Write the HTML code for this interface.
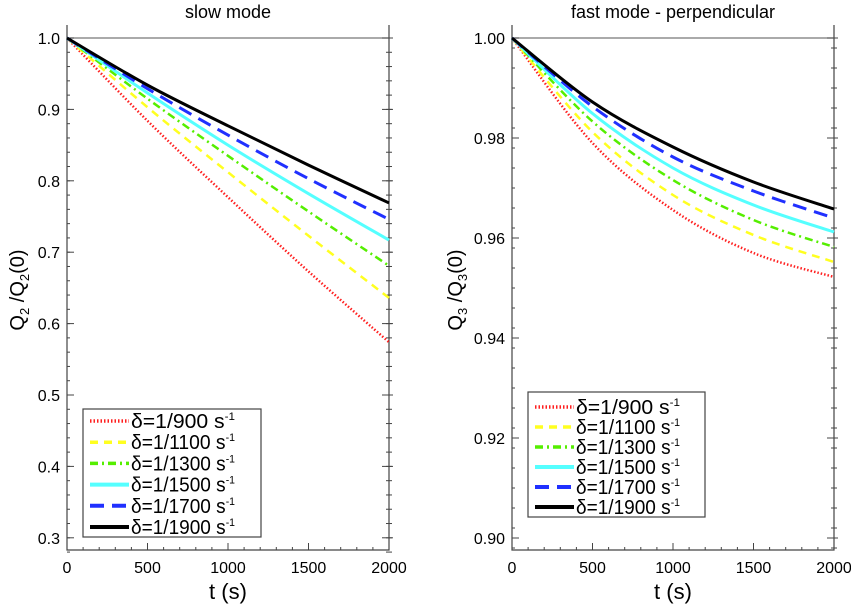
<!DOCTYPE html>
<html><head><meta charset="utf-8"><style>
body{margin:0;background:#fff;}
svg{display:block;font-family:"Liberation Sans",sans-serif;}
</style></head><body>
<svg id="chart" width="851" height="608" xmlns="http://www.w3.org/2000/svg"></svg>
<script>
const times=[0,500,1000,1500,2000];
const labels=["δ=1/900 s","δ=1/1100 s","δ=1/1300 s","δ=1/1500 s","δ=1/1700 s","δ=1/1900 s"];
const slowRed=[1,0.884,0.777,0.673,0.574];
const slowYellow=[1,0.903,0.812,0.723,0.636];
const slowGreen=[1,0.915,0.835,0.757,0.681];
const slowCyan=[1,0.923,0.850,0.782,0.717];
const slowBlue=[1,0.929,0.864,0.803,0.746];
const slowBlack=[1,0.934,0.877,0.822,0.769];
const fastRed=[1,0.979,0.9656,0.957,0.9522];
const fastYellow=[1,0.9812,0.9686,0.9606,0.9552];
const fastGreen=[1,0.9833,0.9716,0.9636,0.9582];
const fastCyan=[1,0.9849,0.974,0.9666,0.9612];
const fastBlue=[1,0.9863,0.9762,0.9694,0.964];
const fastBlack=[1,0.9872,0.9782,0.9712,0.9658];
const xTicks=[0,500,1000,1500,2000];
const slowYTicks=[0.3,0.4,0.5,0.6,0.7,0.8,0.9,1.0];
const fastYTicks=[0.90,0.92,0.94,0.96,0.98,1.00];

const NS="http://www.w3.org/2000/svg";
const svg=document.getElementById('chart');
function mk(tag,attrs,parent){const e=document.createElementNS(NS,tag);for(const k in attrs)e.setAttribute(k,attrs[k]);(parent||svg).appendChild(e);return e;}
const styles=[
 {stroke:"#ff2020",w:2.5,dash:"1.5,2"},
 {stroke:"#ffff20",w:2.5,dash:"8,6"},
 {stroke:"#55ee00",w:2.5,dash:"8,4,2,4"},
 {stroke:"#55ffff",w:3,dash:""},
 {stroke:"#2030ff",w:3,dash:"14,8"},
 {stroke:"#000000",w:3,dash:""}];

function panel(cfg){
 const g=mk('g',{});
 
 
 const x0=cfg.x0,x1=cfg.x1,yTop=25,yBot=550;
 const sx=t=>x0+(t-0)/2000*(x1-x0);
 const sy=v=>38+(1-v)*cfg.ppu;
 const ax=mk('path',{d:`M${x0},${yTop}V${yBot}H${x1}V${yTop}`,fill:"none",stroke:"#444","stroke-width":1.2},g);
 
 const ref=mk('line',{x1:x0,x2:x1,y1:sy(1),y2:sy(1),stroke:"#777","stroke-width":1.2},g);
 
 const ymin=cfg.ymin,step=cfg.minor;
 for(let v=ymin;v<=1.0001;v+=step){const y=sy(v);mk('line',{x1:x0,x2:x0+3,y1:y,y2:y,stroke:"#444"},g);mk('line',{x1:x1-3,x2:x1+3,y1:y,y2:y,stroke:"#444"},g);}
 cfg.yTicks.forEach(v=>{const y=sy(v);
  mk('line',{x1:x0,x2:x0+7,y1:y,y2:y,stroke:"#444"},g);mk('line',{x1:x1-7,x2:x1+4,y1:y,y2:y,stroke:"#444"},g);
  const t=mk('text',{x:x0-7,y:y+6,"text-anchor":"end","font-size":16},g);t.textContent=v.toFixed(cfg.dec);
  });
 for(let t=0;t<=2000;t+=100){const x=sx(t);mk('line',{x1:x,x2:x,y1:yBot,y2:yBot-(t%500==0?7:3),stroke:"#444"},g);}
 xTicks.forEach(t=>{const e=mk('text',{x:sx(t),y:573,"text-anchor":"middle","font-size":16},g);e.textContent=t;
  });
 const xt=mk('text',{x:(x0+x1)/2,y:599,"text-anchor":"middle","font-size":22},g);xt.textContent="t (s)";
 
 const tt=mk('text',{x:(x0+x1)/2,y:18,"text-anchor":"middle","font-size":18},g);tt.textContent=cfg.title;
 
 const yt=mk('text',{transform:`translate(${cfg.ytx},290) rotate(-90)`,"text-anchor":"middle","font-size":20},g);
 yt.innerHTML=`Q<tspan font-size="13" dy="5">${cfg.q}</tspan><tspan dy="-5"> /Q</tspan><tspan font-size="13" dy="5">${cfg.q}</tspan><tspan dy="-5">(0)</tspan>`;
 
 cfg.series.forEach((vals,i)=>{
  const pts=times.map((t,k)=>[sx(t),sy(vals[k])]);
  let d=`M${pts[0][0]},${pts[0][1]}`;
  for(let k=0;k<pts.length-1;k++){const p0=pts[Math.max(0,k-1)],p1=pts[k],p2=pts[k+1],p3=pts[Math.min(pts.length-1,k+2)];
   const c1=[p1[0]+(p2[0]-p0[0])/6,p1[1]+(p2[1]-p0[1])/6],c2=[p2[0]-(p3[0]-p1[0])/6,p2[1]-(p3[1]-p1[1])/6];
   d+=`C${c1[0]},${c1[1]} ${c2[0]},${c2[1]} ${p2[0]},${p2[1]}`;}
  const s=styles[i];
  const p=mk('path',{d:d,fill:"none",stroke:s.stroke,"stroke-width":s.w,"stroke-dasharray":s.dash},g);
  
 });
 const L=cfg.legend;
 const box=mk('rect',{x:L.x,y:L.y,width:L.w,height:L.h,fill:"#fff",stroke:"#444","stroke-width":1.2},g);
 
 labels.forEach((lab,i)=>{const y=L.y0+i*L.dy;const s=styles[i];
  const ln=mk('line',{x1:L.x+7,x2:L.x+46,y1:y,y2:y,stroke:s.stroke,"stroke-width":s.w+1,"stroke-dasharray":s.dash},g);
  
  const t=mk('text',{x:L.x+48,y:y+7,"font-size":20,textLength:104,lengthAdjust:"spacingAndGlyphs"},g);
  t.innerHTML=lab+'<tspan font-size="11" dy="-8">-1</tspan>';
  });
}
panel({name:'slow-mode-panel',x0:67,x1:389,ppu:714,ymin:0.28,minor:0.02,yTicks:slowYTicks,dec:1,title:"slow mode",q:"2",ytx:24,
 series:[slowRed,slowYellow,slowGreen,slowCyan,slowBlue,slowBlack],
 legend:{x:83,y:409,w:178,h:128,y0:421,dy:21.2}});
panel({name:'fast-mode-panel',x0:512,x1:834,ppu:5000,ymin:0.898,minor:0.004,yTicks:fastYTicks,dec:2,title:"fast mode - perpendicular",q:"3",ytx:462,
 series:[fastRed,fastYellow,fastGreen,fastCyan,fastBlue,fastBlack],
 legend:{x:528,y:392,w:177,h:125,y0:407,dy:20}});
</script>
</body></html>
